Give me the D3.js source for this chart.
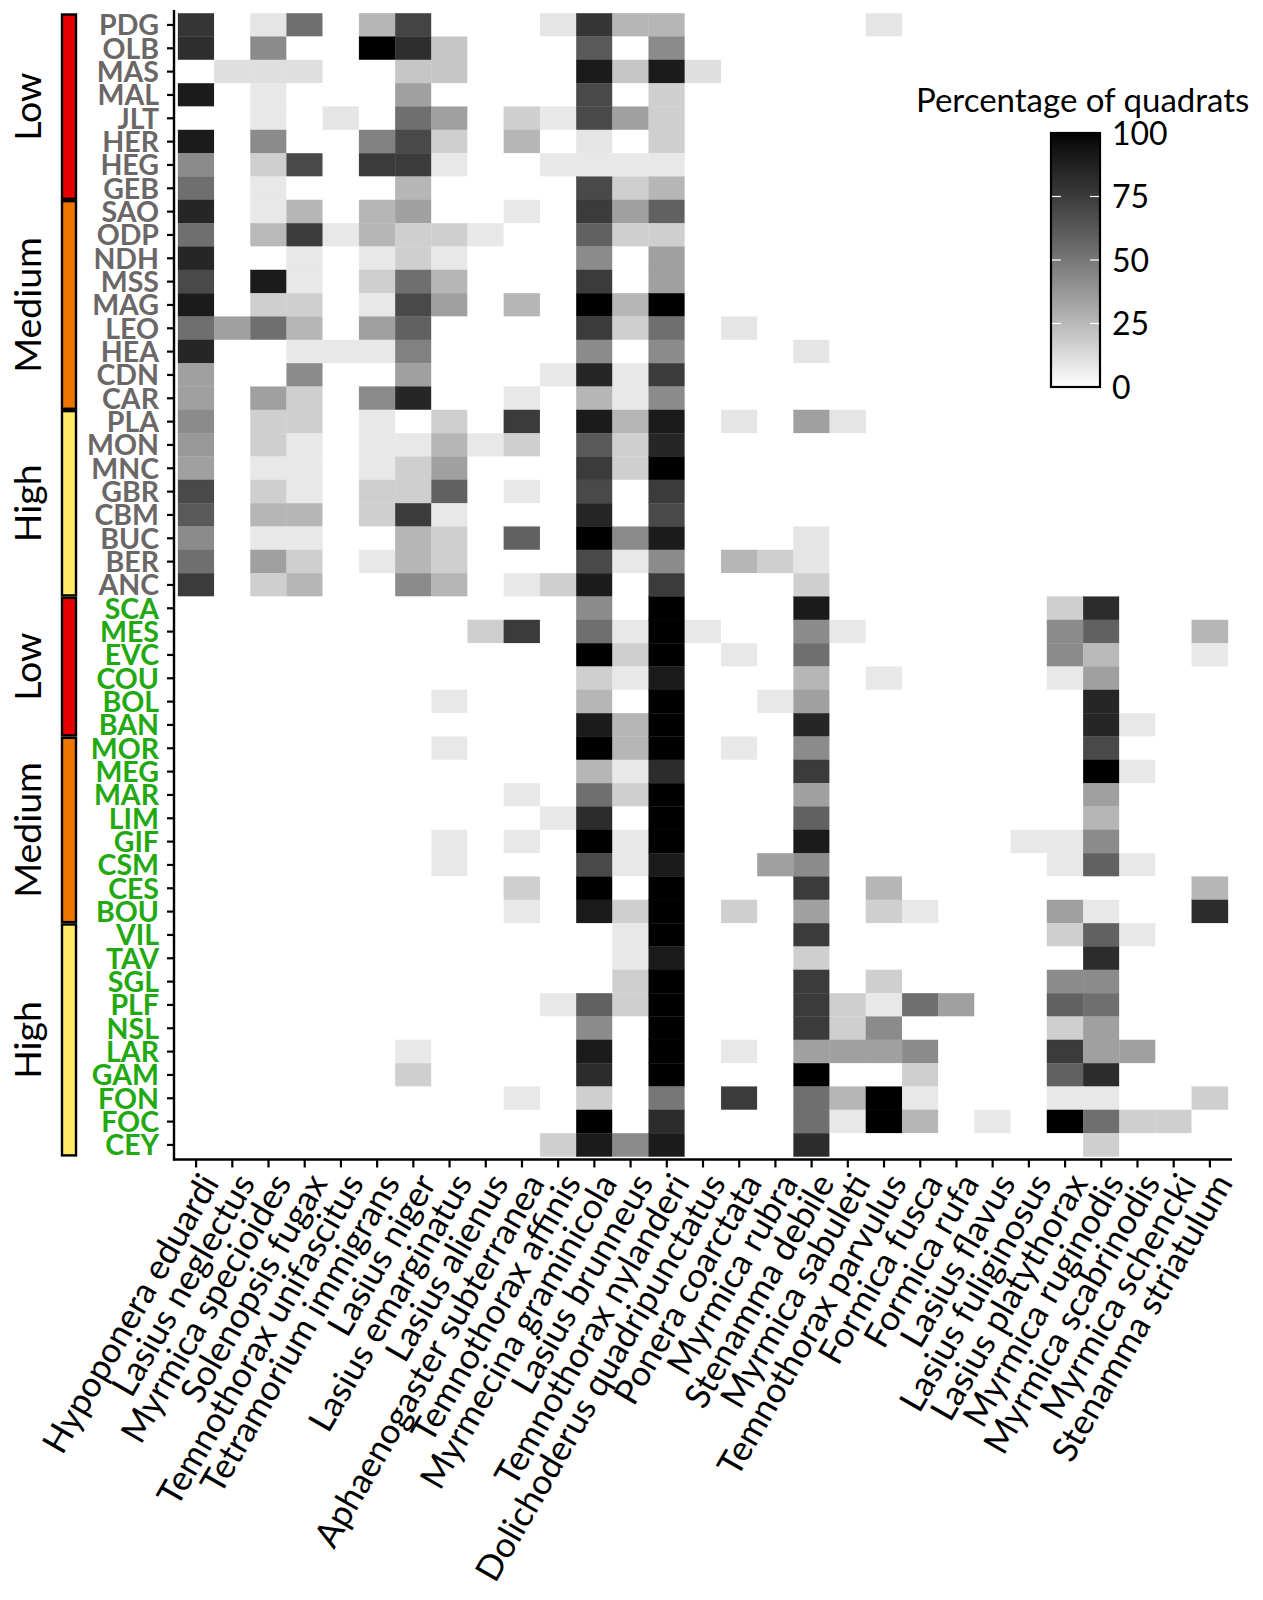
<!DOCTYPE html>
<html>
<head>
<meta charset="utf-8">
<script src="https://cdn.jsdelivr.net/npm/d3@7"></script>
<style>
  html, body { margin: 0; padding: 0; background: #ffffff; }
  svg { display: block; font-family: Lato, "Open Sans", sans-serif; }
</style>
</head>
<body>
<svg id="chart" width="1263" height="1600"></svg>
<script>
// ---------------- DATA ----------------
const species = [
  "Hypoponera eduardi", "Lasius neglectus", "Myrmica specioides", "Solenopsis fugax",
  "Temnothorax unifascitus", "Tetramorium immigrans", "Lasius niger", "Lasius emarginatus",
  "Lasius alienus", "Aphaenogaster subterranea", "Temnothorax affinis", "Myrmecina graminicola",
  "Lasius brunneus", "Temnothorax nylanderi", "Dolichoderus quadripunctatus", "Ponera coarctata",
  "Myrmica rubra", "Stenamma debile", "Myrmica sabuleti", "Temnothorax parvulus",
  "Formica fusca", "Formica rufa", "Lasius flavus", "Lasius fuliginosus",
  "Lasius platythorax", "Myrmica ruginodis", "Myrmica scabrinodis", "Myrmica schencki",
  "Stenamma striatulum"
];

const sites = [
  "PDG","OLB","MAS","MAL","JLT","HER","HEG","GEB",
  "SAO","ODP","NDH","MSS","MAG","LEO","HEA","CDN","CAR",
  "PLA","MON","MNC","GBR","CBM","BUC","BER","ANC",
  "SCA","MES","EVC","COU","BOL","BAN",
  "MOR","MEG","MAR","LIM","GIF","CSM","CES","BOU",
  "VIL","TAV","SGL","PLF","NSL","LAR","GAM","FON","FOC","CEY"
];

// site group: 0 = grey labels (upper block), 1 = green labels (lower block)
const siteGroup = [
  0,0,0,0,0,0,0,0, 0,0,0,0,0,0,0,0,0, 0,0,0,0,0,0,0,0,
  1,1,1,1,1,1, 1,1,1,1,1,1,1,1, 1,1,1,1,1,1,1,1,1,1
];

// left colour-bar bands (level, number of sites)
const bandLabels = ["Low", "Medium", "High", "Low", "Medium", "High"];
const bandSizes  = [8, 9, 8, 6, 8, 10];

// Percentage of quadrats, one row per site, columns in species order
const values = [
  /* PDG */ [78,0,9,53,0,26,71,0,0,0,9,78,26,26,0,0,0,0,0,9,0,0,0,0,0,0,0,0,0],
  /* OLB */ [81,0,42,0,0,100,81,20,0,0,0,62,0,42,0,0,0,0,0,0,0,0,0,0,0,0,0,0,0],
  /* MAS */ [0,11,11,11,0,0,20,20,0,0,0,90,20,90,11,0,0,0,0,0,0,0,0,0,0,0,0,0,0],
  /* MAL */ [90,0,8,0,0,0,34,0,0,0,0,69,0,17,0,0,0,0,0,0,0,0,0,0,0,0,0,0,0],
  /* JLT */ [0,0,8,0,9,0,53,34,0,17,8,69,34,17,0,0,0,0,0,0,0,0,0,0,0,0,0,0,0],
  /* HER */ [90,0,42,0,0,46,69,17,0,26,0,9,0,17,0,0,0,0,0,0,0,0,0,0,0,0,0,0,0],
  /* HEG */ [42,0,17,69,0,75,75,8,0,0,8,8,8,8,0,0,0,0,0,0,0,0,0,0,0,0,0,0,0],
  /* GEB */ [53,0,8,0,0,0,26,0,0,0,0,69,17,26,0,0,0,0,0,0,0,0,0,0,0,0,0,0,0],
  /* SAO */ [85,0,8,26,0,26,34,0,0,8,0,75,34,59,0,0,0,0,0,0,0,0,0,0,0,0,0,0,0],
  /* ODP */ [53,0,25,75,8,26,17,17,8,0,0,59,17,17,0,0,0,0,0,0,0,0,0,0,0,0,0,0,0],
  /* NDH */ [85,0,0,8,0,8,17,8,0,0,0,42,0,34,0,0,0,0,0,0,0,0,0,0,0,0,0,0,0],
  /* MSS */ [69,0,90,8,0,17,53,26,0,0,0,75,0,34,0,0,0,0,0,0,0,0,0,0,0,0,0,0,0],
  /* MAG */ [90,0,17,17,0,8,69,34,0,26,0,100,26,100,0,0,0,0,0,0,0,0,0,0,0,0,0,0,0],
  /* LEO */ [53,34,53,26,0,34,59,0,0,0,0,75,17,53,0,9,0,0,0,0,0,0,0,0,0,0,0,0,0],
  /* HEA */ [85,0,0,8,8,8,46,0,0,0,0,42,0,42,0,0,0,9,0,0,0,0,0,0,0,0,0,0,0],
  /* CDN */ [34,0,0,42,0,0,34,0,0,0,8,85,8,75,0,0,0,0,0,0,0,0,0,0,0,0,0,0,0],
  /* CAR */ [34,0,34,17,0,42,85,0,0,8,0,26,8,42,0,0,0,0,0,0,0,0,0,0,0,0,0,0,0],
  /* PLA */ [42,0,17,17,0,8,0,17,0,75,0,90,26,90,0,9,0,34,9,0,0,0,0,0,0,0,0,0,0],
  /* MON */ [37,0,17,8,0,8,8,26,8,17,0,62,17,85,0,0,0,0,0,0,0,0,0,0,0,0,0,0,0],
  /* MNC */ [34,0,8,8,0,8,17,34,0,0,0,75,17,100,0,0,0,0,0,0,0,0,0,0,0,0,0,0,0],
  /* GBR */ [69,0,17,8,0,17,17,59,0,8,0,69,0,75,0,0,0,0,0,0,0,0,0,0,0,0,0,0,0],
  /* CBM */ [62,0,26,26,0,17,75,8,0,0,0,85,0,69,0,0,0,0,0,0,0,0,0,0,0,0,0,0,0],
  /* BUC */ [42,0,8,8,0,0,26,17,0,59,0,100,42,90,0,0,0,9,0,0,0,0,0,0,0,0,0,0,0],
  /* BER */ [53,0,34,17,0,8,26,17,0,0,0,69,8,42,0,26,17,9,0,0,0,0,0,0,0,0,0,0,0],
  /* ANC */ [75,0,17,26,0,0,42,26,0,8,17,90,0,75,0,0,0,17,0,0,0,0,0,0,0,0,0,0,0],
  /* SCA */ [0,0,0,0,0,0,0,0,0,0,0,42,0,100,0,0,0,90,0,0,0,0,0,0,17,82,0,0,0],
  /* MES */ [0,0,0,0,0,0,0,0,17,75,0,53,8,100,8,0,0,42,8,0,0,0,0,0,42,59,0,0,26],
  /* EVC */ [0,0,0,0,0,0,0,0,0,0,0,100,17,100,0,8,0,53,0,0,0,0,0,0,42,25,0,0,8],
  /* COU */ [0,0,0,0,0,0,0,0,0,0,0,17,8,90,0,0,0,26,0,8,0,0,0,0,8,34,0,0,0],
  /* BOL */ [0,0,0,0,0,0,0,8,0,0,0,26,0,100,0,0,8,34,0,0,0,0,0,0,0,85,0,0,0],
  /* BAN */ [0,0,0,0,0,0,0,0,0,0,0,90,26,100,0,0,0,85,0,0,0,0,0,0,0,85,8,0,0],
  /* MOR */ [0,0,0,0,0,0,0,8,0,0,0,100,26,100,0,8,0,42,0,0,0,0,0,0,0,69,0,0,0],
  /* MEG */ [0,0,0,0,0,0,0,0,0,0,0,26,8,82,0,0,0,75,0,0,0,0,0,0,0,100,8,0,0],
  /* MAR */ [0,0,0,0,0,0,0,0,0,8,0,53,17,100,0,0,0,34,0,0,0,0,0,0,0,34,0,0,0],
  /* LIM */ [0,0,0,0,0,0,0,0,0,0,8,82,0,100,0,0,0,59,0,0,0,0,0,0,0,26,0,0,0],
  /* GIF */ [0,0,0,0,0,0,0,8,0,8,0,100,8,100,0,0,0,90,0,0,0,0,0,8,8,42,0,0,0],
  /* CSM */ [0,0,0,0,0,0,0,8,0,0,0,69,8,90,0,0,34,42,0,0,0,0,0,0,8,59,8,0,0],
  /* CES */ [0,0,0,0,0,0,0,0,0,17,0,100,0,100,0,0,0,75,0,26,0,0,0,0,0,0,0,0,26],
  /* BOU */ [0,0,0,0,0,0,0,0,0,8,0,90,17,100,0,17,0,34,0,17,8,0,0,0,34,8,0,0,82],
  /* VIL */ [0,0,0,0,0,0,0,0,0,0,0,0,8,100,0,0,0,75,0,0,0,0,0,0,17,59,8,0,0],
  /* TAV */ [0,0,0,0,0,0,0,0,0,0,0,0,8,90,0,0,0,17,0,0,0,0,0,0,0,82,0,0,0],
  /* SGL */ [0,0,0,0,0,0,0,0,0,0,0,0,17,100,0,0,0,75,0,17,0,0,0,0,42,42,0,0,0],
  /* PLF */ [0,0,0,0,0,0,0,0,0,0,8,59,17,100,0,0,0,75,17,8,53,34,0,0,59,53,0,0,0],
  /* NSL */ [0,0,0,0,0,0,0,0,0,0,0,42,0,100,0,0,0,75,17,42,0,0,0,0,17,34,0,0,0],
  /* LAR */ [0,0,0,0,0,0,8,0,0,0,0,90,0,100,0,8,0,34,34,34,42,0,0,0,75,34,34,0,0],
  /* GAM */ [0,0,0,0,0,0,17,0,0,0,0,82,0,100,0,0,0,100,0,0,17,0,0,0,59,82,0,0,0],
  /* FON */ [0,0,0,0,0,0,0,0,0,8,0,17,0,50,0,75,0,53,26,100,8,0,0,0,8,8,0,0,17],
  /* FOC */ [0,0,0,0,0,0,0,0,0,0,0,100,0,82,0,0,0,53,8,100,26,0,8,0,100,53,17,17,0],
  /* CEY */ [0,0,0,0,0,0,0,0,0,0,17,90,42,90,0,0,0,82,0,0,0,0,0,0,0,17,0,0,0]
];

const legendTitle = "Percentage of quadrats";
const legendTicks = [0, 25, 50, 75, 100];

// ---------------- STYLE / LAYOUT ----------------
const bandColors = { "Low": "#e60000", "Medium": "#ee7600", "High": "#ffec66" };
const labelColors = ["#6b6767", "#22a810"];

const svg = d3.select("#chart");

const x = d3.scaleBand().domain(species).range([178, 1228]).padding(0);
const y = d3.scaleBand().domain(sites).range([13.3, 1156.6]).padding(0);
const color = d3.scaleLinear().domain([0, 100]).range(["#ffffff", "#000000"])
  .interpolate(d3.interpolateLab);

// cells
const cells = [];
values.forEach((row, i) => row.forEach((v, j) => cells.push({ site: sites[i], sp: species[j], v })));

svg.append("g").selectAll("rect")
  .data(cells)
  .join("rect")
  .attr("x", d => x(d.sp))
  .attr("y", d => y(d.site))
  .attr("width", x.bandwidth())
  .attr("height", y.bandwidth())
  .attr("fill", d => color(d.v))
  .attr("stroke", d => color(d.v))
  .attr("stroke-width", 0.3);

// Y axis
const axisX = 174, axisY = 1159.5;
const yAxis = d3.axisLeft(y).tickSize(7).tickPadding(8).tickSizeOuter(0);
const gy = svg.append("g").attr("transform", `translate(${axisX},0)`).call(yAxis);
gy.select(".domain").remove();
gy.selectAll(".tick line").attr("stroke", "#000").attr("stroke-width", 2.2);
gy.selectAll(".tick text")
  .attr("font-family", "Lato, sans-serif")
  .attr("font-weight", "bold")
  .attr("font-size", 28.5)
  .attr("dy", "0.36em")
  .attr("fill", (d, i) => labelColors[siteGroup[i]]);

// X axis
const xAxis = d3.axisBottom(x).tickSize(8).tickSizeOuter(0);
const gx = svg.append("g").attr("transform", `translate(0,${axisY})`).call(xAxis);
gx.select(".domain").remove();
gx.selectAll(".tick line").attr("stroke", "#000").attr("stroke-width", 2.2);
gx.selectAll(".tick text")
  .attr("font-family", "Lato, sans-serif")
  .attr("font-size", 35)
  .attr("fill", "#000")
  .attr("text-anchor", "end")
  .attr("x", 0).attr("y", 0)
  .attr("transform", "translate(2,11) rotate(-60)")
  .attr("dy", "0.72em");

// axis lines
svg.append("line").attr("x1", axisX).attr("x2", axisX).attr("y1", 10).attr("y2", axisY + 1.1)
  .attr("stroke", "#000").attr("stroke-width", 2.4);
svg.append("line").attr("x1", axisX - 1.1).attr("x2", 1232).attr("y1", axisY).attr("y2", axisY)
  .attr("stroke", "#000").attr("stroke-width", 2.4);

// left level bar
let start = 0;
const bands = bandSizes.map((n, k) => {
  const b = { label: bandLabels[k], first: sites[start], last: sites[start + n - 1] };
  start += n;
  return b;
});
const gb = svg.append("g");
bands.forEach(b => {
  const y0 = y(b.first), y1 = y(b.last) + y.bandwidth();
  gb.append("rect")
    .attr("x", 62).attr("y", y0 + 1.2)
    .attr("width", 14).attr("height", y1 - y0 - 2.4)
    .attr("fill", bandColors[b.label])
    .attr("stroke", "#000").attr("stroke-width", 2.4);
  gb.append("text")
    .attr("transform", `translate(41,${(y0 + y1) / 2}) rotate(-90)`)
    .attr("text-anchor", "middle")
    .attr("font-family", "Lato, sans-serif")
    .attr("font-size", 37.5)
    .attr("fill", "#000")
    .text(b.label);
});

// legend
const lg = svg.append("g");
const barX = 1051, barW = 49, barTop = 133, barBot = 387;
const ly = d3.scaleLinear().domain([0, 100]).range([barBot, barTop]);
const grad = svg.append("defs").append("linearGradient")
  .attr("id", "lgrad").attr("x1", 0).attr("x2", 0).attr("y1", 1).attr("y2", 0);
d3.range(0, 101, 5).forEach(v => grad.append("stop").attr("offset", v / 100).attr("stop-color", color(v)));
lg.append("text")
  .attr("x", 916).attr("y", 112)
  .attr("font-family", "Lato, sans-serif").attr("font-size", 33).attr("fill", "#000")
  .text(legendTitle);
lg.append("rect").attr("x", barX).attr("y", barTop).attr("width", barW).attr("height", barBot - barTop)
  .attr("fill", "url(#lgrad)").attr("stroke", "#000").attr("stroke-width", 2.2);
legendTicks.filter(v => v > 0 && v < 100).forEach(v => {
  lg.append("line").attr("x1", barX + 1).attr("x2", barX + 10).attr("y1", ly(v)).attr("y2", ly(v))
    .attr("stroke", "#fff").attr("stroke-width", 1.2);
  lg.append("line").attr("x1", barX + barW - 10).attr("x2", barX + barW - 1).attr("y1", ly(v)).attr("y2", ly(v))
    .attr("stroke", "#fff").attr("stroke-width", 1.2);
});
legendTicks.forEach(v => {
  lg.append("text")
    .attr("x", 1112).attr("y", ly(v)).attr("dy", "0.36em")
    .attr("font-family", "Lato, sans-serif").attr("font-size", 32).attr("fill", "#000")
    .text(v);
});
</script>
</body>
</html>
